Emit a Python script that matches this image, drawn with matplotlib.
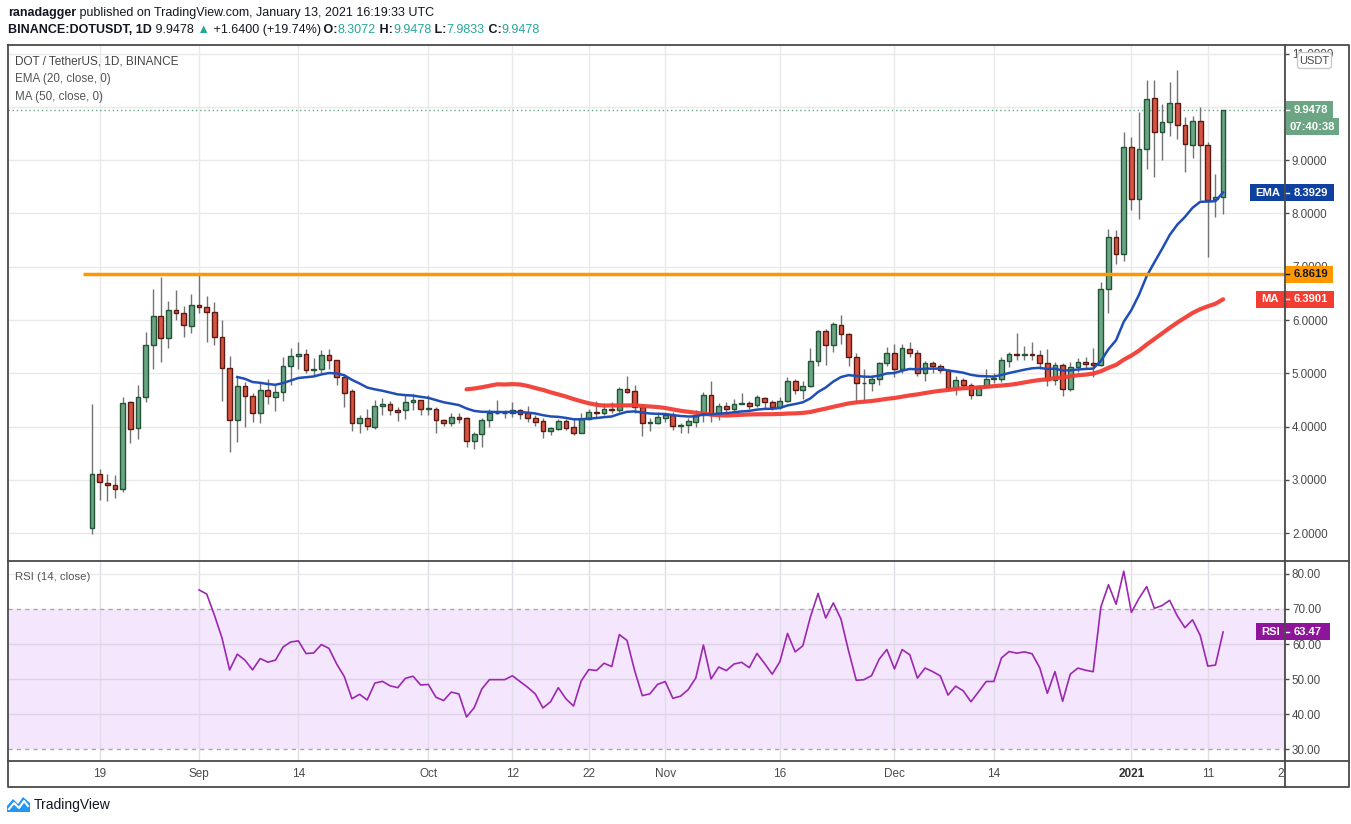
import numpy as np
import pandas as pd
import matplotlib
matplotlib.use("Agg")
import matplotlib.pyplot as plt
from matplotlib.patches import Rectangle, FancyBboxPatch, Polygon
from matplotlib.lines import Line2D
from matplotlib.text import Annotation
from matplotlib.transforms import IdentityTransform

plt.rcParams['font.family'] = ['Liberation Sans', 'DejaVu Sans']

# daily candles, DOT/USDT on Binance, starting 2020-08-18
start = '2020-08-18'
open_ = [2.09, 3.11, 2.94, 2.91, 2.84, 4.47, 3.98, 4.56, 5.54, 6.08,
         5.66, 6.19, 6.13, 5.89, 6.28, 6.24, 6.15, 5.68, 5.10, 4.13,
         4.77, 4.58, 4.26, 4.69, 4.56, 4.65, 5.13, 5.32, 5.36, 5.06,
         5.08, 5.34, 5.26, 4.93, 4.66, 4.06, 4.16, 4.00, 4.38, 4.42,
         4.32, 4.31, 4.46, 4.50, 4.34, 4.34, 4.12, 4.06, 4.18, 4.16,
         3.74, 3.86, 4.12, 4.25, 4.25, 4.25, 4.31, 4.25, 4.17, 4.11,
         3.91, 3.96, 4.11, 3.99, 3.89, 4.14, 4.27, 4.26, 4.34, 4.31,
         4.70, 4.67, 4.36, 4.06, 4.07, 4.17, 4.21, 4.02, 4.04, 4.09,
         4.21, 4.59, 4.23, 4.38, 4.34, 4.42, 4.44, 4.40, 4.53, 4.46,
         4.36, 4.49, 4.85, 4.68, 4.76, 5.23, 5.79, 5.53, 5.90, 5.73,
         5.30, 4.81, 4.81, 4.89, 5.19, 5.38, 5.08, 5.45, 5.39, 5.00,
         5.19, 5.14, 5.06, 4.73, 4.88, 4.79, 4.60, 4.74, 4.89, 4.89,
         5.24, 5.36, 5.34, 5.36, 5.34, 5.19, 4.87, 5.15, 4.71, 5.11,
         5.21, 5.19, 5.16, 6.59, 7.55, 7.23, 9.25, 8.28, 9.20, 10.16,
         9.52, 9.72, 10.08, 9.65, 9.29, 9.74, 9.29, 8.28, 8.3072]
high = [4.43, 3.21, 3.11, 3.10, 4.55, 4.49, 4.79, 5.77, 6.59, 6.81,
        6.36, 6.56, 6.27, 6.48, 6.86, 6.46, 6.34, 6.00, 5.32, 4.93,
        4.83, 4.64, 4.81, 4.90, 4.78, 5.30, 5.47, 5.58, 5.45, 5.28,
        5.44, 5.45, 5.26, 4.97, 4.70, 4.22, 4.33, 4.50, 4.54, 4.48,
        4.37, 4.59, 4.61, 4.50, 4.59, 4.37, 4.15, 4.25, 4.26, 4.18,
        3.90, 4.17, 4.34, 4.50, 4.32, 4.46, 4.34, 4.39, 4.22, 4.17,
        4.00, 4.14, 4.14, 4.14, 4.25, 4.34, 4.48, 4.44, 4.46, 4.74,
        4.95, 4.78, 4.43, 4.16, 4.28, 4.26, 4.27, 4.06, 4.16, 4.31,
        4.65, 4.86, 4.44, 4.46, 4.52, 4.63, 4.49, 4.59, 4.56, 4.50,
        4.56, 4.94, 4.90, 4.86, 5.47, 5.81, 5.83, 5.96, 6.09, 5.75,
        5.38, 5.08, 4.97, 5.22, 5.50, 5.55, 5.56, 5.58, 5.44, 5.23,
        5.23, 5.17, 5.09, 4.95, 4.92, 4.81, 4.78, 5.09, 5.00, 5.30,
        5.41, 5.76, 5.51, 5.59, 5.44, 5.46, 5.21, 5.19, 5.21, 5.28,
        5.31, 5.47, 6.72, 7.71, 7.69, 9.53, 9.43, 9.91, 10.51, 10.51,
        10.05, 10.46, 10.69, 9.81, 9.83, 9.99, 9.34, 8.74, 9.9478]
low = [1.99, 2.63, 2.60, 2.67, 2.78, 3.69, 3.76, 4.46, 5.09, 5.21,
       5.47, 6.01, 5.69, 5.75, 6.13, 5.58, 5.54, 4.48, 3.53, 3.71,
       3.99, 4.09, 4.07, 4.43, 4.29, 4.49, 4.78, 5.09, 5.01, 4.95,
       5.01, 5.08, 4.78, 4.36, 3.91, 3.89, 3.93, 3.95, 4.22, 4.22,
       4.11, 4.14, 4.31, 4.22, 4.22, 3.89, 4.01, 4.01, 4.07, 3.61,
       3.59, 3.62, 4.00, 4.23, 4.17, 4.19, 4.14, 4.08, 4.01, 3.79,
       3.84, 3.94, 3.94, 3.84, 3.89, 4.13, 4.18, 4.22, 4.25, 4.28,
       4.64, 4.25, 3.83, 3.91, 4.05, 4.08, 3.94, 3.88, 3.89, 4.00,
       4.09, 4.08, 4.13, 4.23, 4.29, 4.42, 4.33, 4.37, 4.34, 4.31,
       4.34, 4.46, 4.62, 4.51, 4.75, 5.13, 5.16, 5.41, 5.56, 5.13,
       4.44, 4.49, 4.66, 4.78, 5.13, 4.93, 5.00, 5.31, 4.95, 4.86,
       5.00, 5.01, 4.69, 4.59, 4.70, 4.52, 4.59, 4.74, 4.81, 4.84,
       5.11, 5.25, 5.25, 5.26, 5.09, 4.77, 4.78, 4.58, 4.67, 5.03,
       5.09, 4.93, 5.14, 6.13, 7.06, 7.11, 8.06, 7.89, 8.84, 8.69,
       9.00, 9.45, 9.39, 8.78, 9.04, 8.25, 7.18, 7.93, 7.9833]
close = [3.11, 2.96, 2.90, 2.83, 4.45, 3.96, 4.56, 5.54, 6.08, 5.66,
         6.19, 6.13, 5.91, 6.28, 6.24, 6.15, 5.68, 5.10, 4.13, 4.77,
         4.58, 4.26, 4.69, 4.58, 4.65, 5.13, 5.32, 5.36, 5.06, 5.08,
         5.34, 5.26, 4.93, 4.64, 4.06, 4.16, 4.01, 4.38, 4.42, 4.32,
         4.28, 4.46, 4.50, 4.34, 4.35, 4.12, 4.06, 4.18, 4.15, 3.74,
         3.86, 4.12, 4.26, 4.26, 4.26, 4.31, 4.24, 4.17, 4.09, 3.91,
         3.97, 4.11, 3.98, 3.89, 4.14, 4.27, 4.26, 4.34, 4.31, 4.70,
         4.65, 4.36, 4.06, 4.08, 4.18, 4.21, 4.02, 4.04, 4.10, 4.21,
         4.59, 4.23, 4.38, 4.34, 4.42, 4.44, 4.39, 4.55, 4.46, 4.36,
         4.49, 4.85, 4.68, 4.76, 5.23, 5.79, 5.53, 5.92, 5.73, 5.30,
         4.81, 4.82, 4.89, 5.19, 5.38, 5.08, 5.47, 5.39, 5.00, 5.19,
         5.13, 5.06, 4.73, 4.87, 4.79, 4.60, 4.74, 4.89, 4.89, 5.25,
         5.36, 5.34, 5.36, 5.34, 5.19, 4.87, 5.15, 4.71, 5.11, 5.21,
         5.18, 5.16, 6.59, 7.55, 7.23, 9.25, 8.28, 9.20, 10.14, 9.52,
         9.71, 10.08, 9.65, 9.31, 9.74, 9.29, 8.26, 8.3078, 9.9478]

resistance = 6.8619
last_price = 9.9478
ema_last = 8.3929
ma_last = 6.3901
rsi_last = 63.47
countdown = '07:40:38'

tick_dates = ['2020-08-19', '2020-09-01', '2020-09-14', '2020-10-01', '2020-10-12',
              '2020-10-22', '2020-11-01', '2020-11-16', '2020-12-01', '2020-12-14',
              '2021-01-01', '2021-01-11', '2021-01-21']
tick_labels = ['19', 'Sep', '14', 'Oct', '12', '22', 'Nov', '16', 'Dec', '14', '2021', '11', '21']
price_ticks = [2, 3, 4, 5, 6, 7, 8, 9, 10, 11]
hidden_ticks = [10]          # sits under the last-price tag
rsi_ticks = [30, 40, 50, 60, 70, 80]

# ---- indicators from the closes
o = np.array(open_); h = np.array(high); l = np.array(low); c = np.array(close)
n = len(c)
x = np.arange(n)
s = pd.Series(c)

ema = np.full(n, np.nan)
ema[19] = c[:20].mean()
a = 2 / 21
for i in range(20, n):
    ema[i] = a * c[i] + (1 - a) * ema[i - 1]
ma = s.rolling(50).mean().values

d = np.diff(c)
up = np.maximum(d, 0); dn = np.maximum(-d, 0)
au = up[:14].mean(); ad = dn[:14].mean()
rsi = np.full(n, np.nan)
rsi[14] = 100 - 100 / (1 + au / ad)
for i in range(15, n):
    au = (au * 13 + up[i - 1]) / 14
    ad = (ad * 13 + dn[i - 1]) / 14
    rsi[i] = 100 - 100 / (1 + au / ad)

tick_x = [(pd.Timestamp(t) - pd.Timestamp(start)).days for t in tick_dates]

# ---- layout in pixels
W, H = 1351, 824
fig = plt.figure(figsize=(W / 100, H / 100), dpi=100)
ID = IdentityTransform()
L, R = 8, 1285
TOP, SEP, BOT, TBOT, RIGHT = 45, 561, 761, 787, 1349

ax = fig.add_axes([L / W, 1 - SEP / H, (R - L) / W, (SEP - TOP) / H])
ax_r = fig.add_axes([L / W, 1 - BOT / H, (R - L) / W, (BOT - SEP) / H])
ax_t = fig.add_axes([L / W, 1 - TBOT / H, (R - L) / W, (TBOT - BOT) / H])

xlim = (-11.0, 156.1)
grid_c = '#e9e9e9'
txt_c = '#4a4a4a'
for a_ in (ax, ax_r, ax_t):
    a_.set_xlim(*xlim)
    for sp in a_.spines.values():
        sp.set_visible(False)
    a_.set_xticks([])
ax.set_ylim(1.48, 11.16)
ax_r.set_ylim(26.6, 83.7)
ax_t.set_ylim(0, 1)
ax_t.set_yticks([])

for a_ in (ax, ax_r):
    a_.yaxis.tick_right()
    a_.tick_params(axis='y', length=3, width=1, color='#4a4a4a', pad=2,
                   labelsize=8.4, labelcolor=txt_c)
ax.set_yticks(price_ticks)
ax.set_yticklabels(['' if v in hidden_ticks else f'{v:.4f}' for v in price_ticks])
ax_r.set_yticks(rsi_ticks)
ax_r.set_yticklabels([f'{v:.2f}' for v in rsi_ticks])

# grids
for tx in tick_x:
    ax.axvline(tx, color=grid_c, lw=1, zorder=0.5)
    ax_r.axvline(tx, color='#e2dbe8', lw=1, zorder=0.5)
for v in price_ticks:
    ax.axhline(v, color=grid_c, lw=1, zorder=0.5)
ax_r.axhspan(30, 70, color='#f4e6fd', lw=0, zorder=0.2)
for v in [40, 50, 60]:
    ax_r.axhline(v, color='#dcd3e6', lw=1, zorder=0.5)
ax_r.axhline(80, color=grid_c, lw=1, zorder=0.5)
for v in [30, 70]:
    ax_r.axhline(v, color='#a8a8a8', lw=1, ls=(0, (3, 3)), zorder=0.6)

# candles
up_m = c >= o
bot = np.minimum(o, c)
bh = np.maximum(np.abs(c - o), 0.015)
ax.vlines(x, l, h, color='#737375', lw=1, zorder=2)
ax.bar(x[up_m], bh[up_m], bottom=bot[up_m], width=0.62, color='#6ba583',
       edgecolor='#225437', lw=1, zorder=3)
ax.bar(x[~up_m], bh[~up_m], bottom=bot[~up_m], width=0.62, color='#d75442',
       edgecolor='#5b1a13', lw=1, zorder=3)

ax.plot(x, ma, color='#f23d33', lw=3, alpha=0.95, zorder=4, solid_capstyle='round')
ax.plot(x, ema, color='#1f4fb6', lw=1.8, zorder=4.5)
ax.hlines(resistance, -1.2, xlim[1], color='#ff9800', lw=2.5, zorder=5)
ax.axhline(last_price, color='#6ba583', lw=1, ls=(0, (1, 2)), zorder=1.5)

ax_r.plot(x, rsi, color='#9c27b0', lw=1.2, zorder=4)

# time axis labels
for tx, lab in zip(tick_x, tick_labels):
    bold = lab == '2021'
    ax_t.text(tx, 0.5, lab, ha='center', va='center', fontsize=8.5,
              color='#333333' if bold else txt_c,
              fontweight='bold' if bold else 'normal', clip_on=True)


def px_line(xs, ys, **kw):
    fig.add_artist(Line2D(xs, [H - y for y in ys], transform=ID, **kw))


def tag(axis, val, x0, x1, color, value, name=None, tcolor='white', dy=0, vx=1294):
    yd = axis.transData.transform((0, val))[1] + dy
    fig.add_artist(Rectangle((x0, yd - 8.5), x1 - x0, 17, transform=ID,
                             facecolor=color, edgecolor='none', zorder=5))
    if dy == 0:
        fig.add_artist(Line2D([R, R + 4], [yd, yd], transform=ID, color=tcolor,
                              lw=1, zorder=5.5))
    fig.text(vx, yd, value, transform=ID, ha='left', va='center', fontsize=8.1,
             color=tcolor, fontweight='bold', zorder=6)
    if name:
        fig.text((x0 + R) / 2, yd, name, transform=ID, ha='center', va='center',
                 fontsize=8.1, color=tcolor, fontweight='bold', zorder=6)


tag(ax, last_price, 1286, 1333, '#6ba583', f'{last_price:.4f}')
tag(ax, last_price, 1286, 1339, '#6ba583', countdown, dy=-17, vx=1290)
tag(ax, ema_last, 1250, 1334, '#0f42a0', f'{ema_last:.4f}', name='EMA')
tag(ax, resistance, 1286, 1333, '#ff9800', f'{resistance:.4f}', tcolor='#131722')
tag(ax, ma_last, 1256, 1334, '#f23d33', f'{ma_last:.4f}', name='MA')
tag(ax_r, rsi_last, 1256, 1330, '#8e1599', f'{rsi_last:.2f}', name='RSI')

# USDT badge
fig.add_artist(FancyBboxPatch((1299, H - 67), 31, 13, transform=ID,
                              boxstyle='round,pad=1.5,rounding_size=3',
                              facecolor='white', edgecolor='#c9c9c9', lw=1, zorder=5))
fig.text(1314.5, H - 60.5, 'USDT', transform=ID, ha='center', va='center',
         fontsize=8, color=txt_c, zorder=6)

# frame
fc = '#4a4a4a'
px_line([L, RIGHT, RIGHT, L, L], [TOP, TOP, TBOT, TBOT, TOP], color=fc, lw=1.3, zorder=7)
px_line([L, RIGHT], [SEP, SEP], color=fc, lw=1.3, zorder=7)
px_line([L, RIGHT], [BOT, BOT], color=fc, lw=1.3, zorder=7)
px_line([R, R], [TOP, TBOT], color=fc, lw=1.3, zorder=7)

# pane legends
fig.text(15, H - 61, 'DOT / TetherUS, 1D, BINANCE', transform=ID, va='center',
         fontsize=8.5, color='#444444')
fig.text(15, H - 79, 'EMA (20, close, 0)', transform=ID, va='center',
         fontsize=8.4, color='#555555')
fig.text(15, H - 97, 'MA (50, close, 0)', transform=ID, va='center',
         fontsize=8.4, color='#555555')
fig.text(15, H - 577, 'RSI (14, close)', transform=ID, va='center',
         fontsize=8.2, color='#555555')


def runs(y, parts):
    prev = None
    for txt, weight, col in parts:
        if prev is None:
            prev = fig.text(8, H - y, txt, transform=ID, va='center', fontsize=9,
                            fontweight=weight, color=col)
        else:
            ann = Annotation(txt, xy=(1, 0), xycoords=prev, va='bottom', ha='left',
                             fontsize=9, fontweight=weight, color=col)
            fig.add_artist(ann)
            prev = ann


dk = '#131722'
tl = '#26a69a'
runs(13, [('ranadagger', 'bold', dk),
          (' published on TradingView.com, January 13, 2021 16:19:33 UTC', 'normal', dk)])
runs(30, [('BINANCE:DOTUSDT, 1D', 'bold', dk), (' 9.9478', 'normal', dk),
          (' \u25b2', 'normal', tl), (' +1.6400 (+19.74%)', 'normal', dk),
          (' O:', 'bold', dk), ('8.3072', 'normal', tl),
          (' H:', 'bold', dk), ('9.9478', 'normal', tl),
          (' L:', 'bold', dk), ('7.9833', 'normal', tl),
          (' C:', 'bold', dk), ('9.9478', 'normal', tl)])

# TradingView logo
fig.add_artist(Polygon([(7, H - 812), (7, H - 806), (13, H - 799), (18, H - 804),
                        (23, H - 797), (30, H - 803), (30, H - 812)],
                       closed=True, transform=ID, facecolor='#2196f3',
                       edgecolor='none'))
px_line([9, 14, 19, 24, 28], [809, 803, 808, 801, 806], color='white', lw=1.5, zorder=3)
fig.text(34, H - 805, 'TradingView', transform=ID, va='center', fontsize=10,
         color='#131722')

fig.savefig('out.png', dpi=100)
